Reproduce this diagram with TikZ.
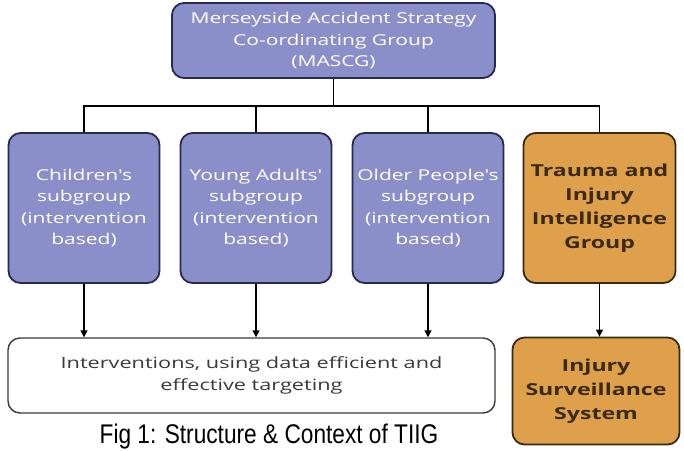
\documentclass[tikz,border=0pt]{standalone}
\usepackage{fontspec}
\usetikzlibrary{arrows.meta}
\newfontfamily\boxfont[FakeStretch=1.4]{Open Sans}
\newfontfamily\capfont[FakeStretch=0.84]{Liberation Sans}
\definecolor{lavender}{HTML}{8B8FC9}
\definecolor{navyline}{HTML}{262A52}
\definecolor{ochre}{HTML}{DEA04A}
\definecolor{brownline}{HTML}{3A2A12}
\definecolor{darktext}{HTML}{3A3A3A}
\begin{document}
\begin{tikzpicture}
    [%%%%%%%%%%%%%%%%%%%%%%%%%%%%%%
        x=1pt,y=-1pt,
        group/.style={rectangle,rounded corners=12pt,line width=1.8pt,align=center,
            font=\boxfont\fontsize{15}{21.5}\selectfont,inner sep=0pt},
        subgroup/.style={group,draw=navyline,fill=lavender,text=white,
            minimum width=151pt,minimum height=150pt},
        tiigbox/.style={group,draw=brownline,fill=ochre,text=brownline,
            font=\boxfont\bfseries\fontsize{16.5}{24}\selectfont},
        link/.style={line width=1.4pt,black},
        arrow/.style={link,-{Triangle[length=7pt,width=7pt]}},
    ]%%%%%%%%%%%%%%%%%%%%%%%%%%%%%%

\useasboundingbox (0,0) rectangle (684,450);

% top of the structure
\node[subgroup,minimum width=323pt,minimum height=75pt] (mascg) at (333.5,40.5)
    {Merseyside Accident Strategy\\Co-ordinating Group\\(MASCG)};

% the subgroups
\node[subgroup] (child) at (84,208)  {Children's\\subgroup\\(intervention\\based)};
\node[subgroup] (young) at (256,208) {Young Adults'\\subgroup\\(intervention\\based)};
\node[subgroup] (older) at (428,208) {Older People's\\subgroup\\(intervention\\based)};
\node[tiigbox,minimum width=152pt,minimum height=150pt] (tiig) at (599.5,208)
    {Trauma and\\Injury\\Intelligence\\Group};

% outcomes
\node[group,draw=darktext,fill=white,text=darktext,line width=1.4pt,
      font=\boxfont\fontsize{15.5}{22}\selectfont,
      minimum width=487pt,minimum height=75pt] (interv) at (251.5,375.5)
    {Interventions, using data efficient and\\effective targeting};
\node[tiigbox,minimum width=167pt,minimum height=107pt] (iss) at (596,391)
    {Injury\\Surveillance\\System};

\node[font=\capfont\fontsize{27}{30}\selectfont,anchor=base,inner sep=0pt] (caption)
    at (269,443) {Fig 1: Structure \& Context of TIIG};

% bus line under the top box
\coordinate (bus) at (0,106);
\draw[link] (mascg.south) -- (mascg.south |- bus);
\draw[link] (child.north) -- (child.north |- bus) -- (tiig.north |- bus) -- (tiig.north);
\foreach \n in {young,older}
    \draw[link] (\n.north) -- (\n.north |- bus);

% arrows down
\foreach \n in {child,young,older}
    \draw[arrow] (\n.south) -- (\n.south |- interv.north);
\draw[arrow] (tiig.south) -- (tiig.south |- iss.north);

\end{tikzpicture}
\end{document}
